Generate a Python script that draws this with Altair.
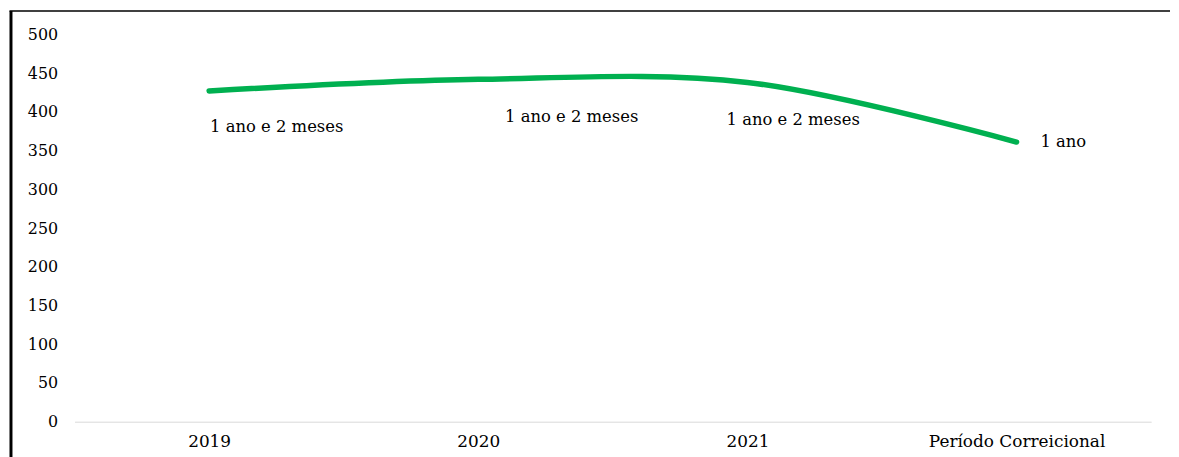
import altair as alt
import pandas as pd

categories = ["2019", "2020", "2021", "Período Correicional"]
values = [427, 442, 438, 361]
labels = ["1 ano e 2 meses", "1 ano e 2 meses", "1 ano e 2 meses", "1 ano"]
y_ticks = list(range(0, 501, 50))

df = pd.DataFrame({"cat": categories, "val": values, "label": labels})
frame_df = pd.DataFrame({"a": [0]})

FONT = "DejaVu Serif"

x_enc = alt.X(
    "cat:N",
    sort=categories,
    axis=alt.Axis(
        title=None, labelAngle=0, ticks=False, domainColor="#d9d9d9", domainWidth=1,
        labelFont=FONT, labelFontSize=17, labelColor="black", labelPadding=12,
    ),
)
y_enc = alt.Y(
    "val:Q",
    scale=alt.Scale(domain=[0, 500], nice=False),
    axis=alt.Axis(
        values=y_ticks, title=None, grid=False, domain=False, ticks=False,
        labelOverlap=False,
        labelFont=FONT, labelFontSize=16, labelColor="black", labelPadding=17,
    ),
)

base = alt.Chart(df)

line = base.mark_line(
    color="#00B050", strokeWidth=5.5, interpolate="cardinal", strokeCap="round"
).encode(x=x_enc, y=y_enc)

offsets = [(1, 36), (27, 38), (-21, 38), (24, 0)]
text_layers = []
for cat, (ddx, ddy) in zip(categories, offsets):
    text_layers.append(
        base.transform_filter(alt.datum.cat == cat)
        .mark_text(align="left", baseline="middle", dx=ddx, dy=ddy,
                   font=FONT, fontSize=16.5, color="black")
        .encode(x=x_enc, y=y_enc, text="label:N")
    )

left_frame = alt.Chart(frame_df).mark_rule(color="black", strokeWidth=3).encode(
    x=alt.value(-64), y=alt.value(-23.5), y2=alt.value(428)
)
top_frame = alt.Chart(frame_df).mark_rule(color="black", strokeWidth=1.5).encode(
    x=alt.value(-65.5), x2=alt.value(1103), y=alt.value(-23.5)
)

chart = alt.layer(left_frame, top_frame, line, *text_layers).properties(
    width=1084, height=390,
    padding={"left": 0, "top": 0, "right": 0, "bottom": 0},
    background="white",
).configure_view(stroke=None)

chart.save("out.html", embed_options={"renderer": "svg", "actions": False})
